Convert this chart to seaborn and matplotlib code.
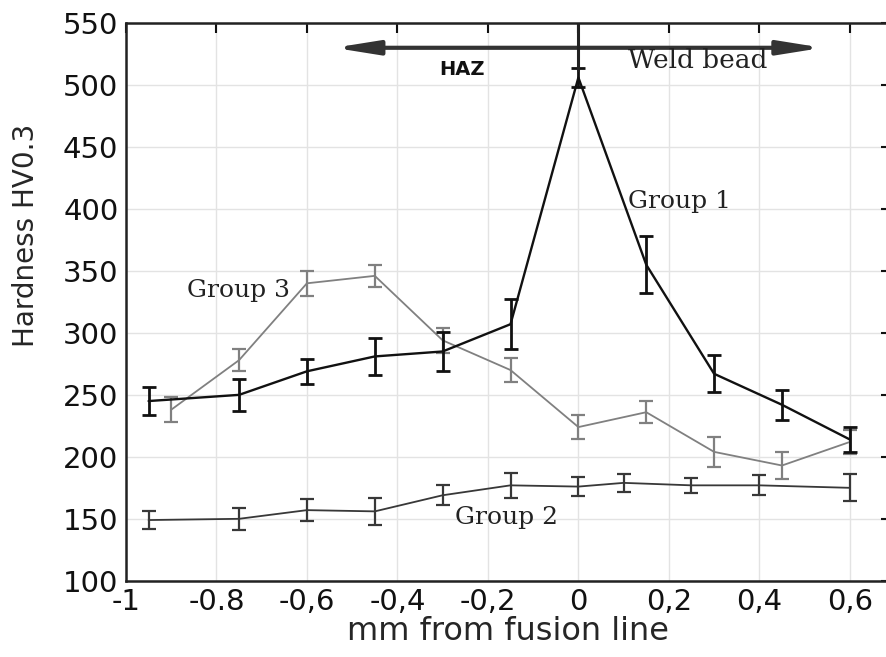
import numpy as np
import pandas as pd
import seaborn as sns
from matplotlib import pyplot as plt

# group 1 (black)
x1 = [-0.95, -0.75, -0.6, -0.45, -0.3, -0.15, 0.0, 0.15, 0.3, 0.45, 0.6]
y1 = [245, 250, 269, 281, 285, 307, 506, 355, 267, 242, 214]
e1 = [11, 13, 10, 15, 16, 20, 8, 23, 15, 12, 10]

# group 3 (light grey)
x3 = [-0.9, -0.75, -0.6, -0.45, -0.3, -0.15, 0.0, 0.15, 0.3, 0.45, 0.6]
y3 = [238, 278, 340, 346, 294, 270, 224, 236, 204, 193, 212]
e3 = [10, 9, 10, 9, 10, 10, 10, 9, 12, 11, 10]

# group 2 (dark grey)
x2 = [-0.95, -0.75, -0.6, -0.45, -0.3, -0.15, 0.0, 0.1, 0.25, 0.4, 0.6]
y2 = [149, 150, 157, 156, 169, 177, 176, 179, 177, 177, 175]
e2 = [7, 9, 9, 11, 8, 10, 8, 7, 6, 8, 11]

xticks = [-1, -0.8, -0.6, -0.4, -0.2, 0, 0.2, 0.4, 0.6]
xticklabels = ['-1', '-0.8', '-0,6', '-0,4', '-0,2', '0', '0,2', '0,4', '0,6']
yticks = [100, 150, 200, 250, 300, 350, 400, 450, 500, 550]

df = pd.DataFrame({
    'x': x1 + x3 + x2,
    'y': y1 + y3 + y2,
    'err': e1 + e3 + e2,
    'group': ['Group 1'] * len(x1) + ['Group 3'] * len(x3) + ['Group 2'] * len(x2),
})
colors = {'Group 1': '#111111', 'Group 3': '#808080', 'Group 2': '#383838'}
widths = {'Group 1': 1.7, 'Group 3': 1.3, 'Group 2': 1.3}

sns.set_style('white')
plt.rcParams['font.family'] = ['DejaVu Sans']

fig = plt.figure(figsize=(8.87, 6.57), dpi=100)
ax = fig.add_axes([0.142, 0.116, 0.862, 0.849])

for g in ['Group 2', 'Group 3', 'Group 1']:
    d = df[df['group'] == g]
    sns.lineplot(data=d, x='x', y='y', color=colors[g], lw=widths[g], ax=ax,
                 legend=False, zorder=3)
    ax.errorbar(d['x'], d['y'], yerr=d['err'], fmt='none', ecolor=colors[g],
                elinewidth=widths[g] + 0.3, capsize=5, capthick=widths[g] + 0.3,
                zorder=3)

ax.set_xlim(-1, 0.69)
ax.set_ylim(100, 550)
ax.set_xticks(xticks)
ax.set_xticklabels(xticklabels)
ax.set_yticks(yticks)
ax.grid(True, color='#e3e3e3', lw=1)
ax.set_axisbelow(True)
ax.tick_params(direction='in', length=7, width=1.5, top=True, right=True,
               labelsize=21, colors='#111111')
ax.tick_params(axis='y', pad=5.5)
ax.tick_params(axis='x', pad=5)
for s in ax.spines.values():
    s.set_linewidth(1.8)
    s.set_color('#222222')
ax.set_xlabel('mm from fusion line', fontsize=23, labelpad=0)
ax.set_ylabel('Hardness HV0.3', fontsize=20)
ax.yaxis.set_label_coords(-0.113, 0.62)

# HAZ / weld bead arrow
ax.annotate('', xy=(-0.54, 530), xytext=(0.54, 530),
            arrowprops=dict(arrowstyle='<|-|>,head_length=1.0,head_width=0.16',
                            color='#333333', lw=3, mutation_scale=26,
                            shrinkA=0, shrinkB=0))
ax.plot([0, 0], [550, 512], color='#222222', lw=2.2, zorder=4)
ax.text(-0.257, 508, 'HAZ', fontsize=14, fontweight='bold', ha='center',
        va='baseline', color='#111111')

serif = ['DejaVu Serif']
ax.text(0.11, 513.5, 'Weld bead', fontsize=19, ha='left', va='baseline',
        family=serif, color='#222222')
ax.text(0.11, 406, 'Group 1', fontsize=18, ha='left', va='center',
        family=serif, color='#222222')
ax.text(-0.865, 334, 'Group 3', fontsize=18, ha='left', va='center',
        family=serif, color='#222222')
ax.text(-0.272, 151, 'Group 2', fontsize=18, ha='left', va='center',
        family=serif, color='#222222')

fig.savefig('out.png', dpi=100)
